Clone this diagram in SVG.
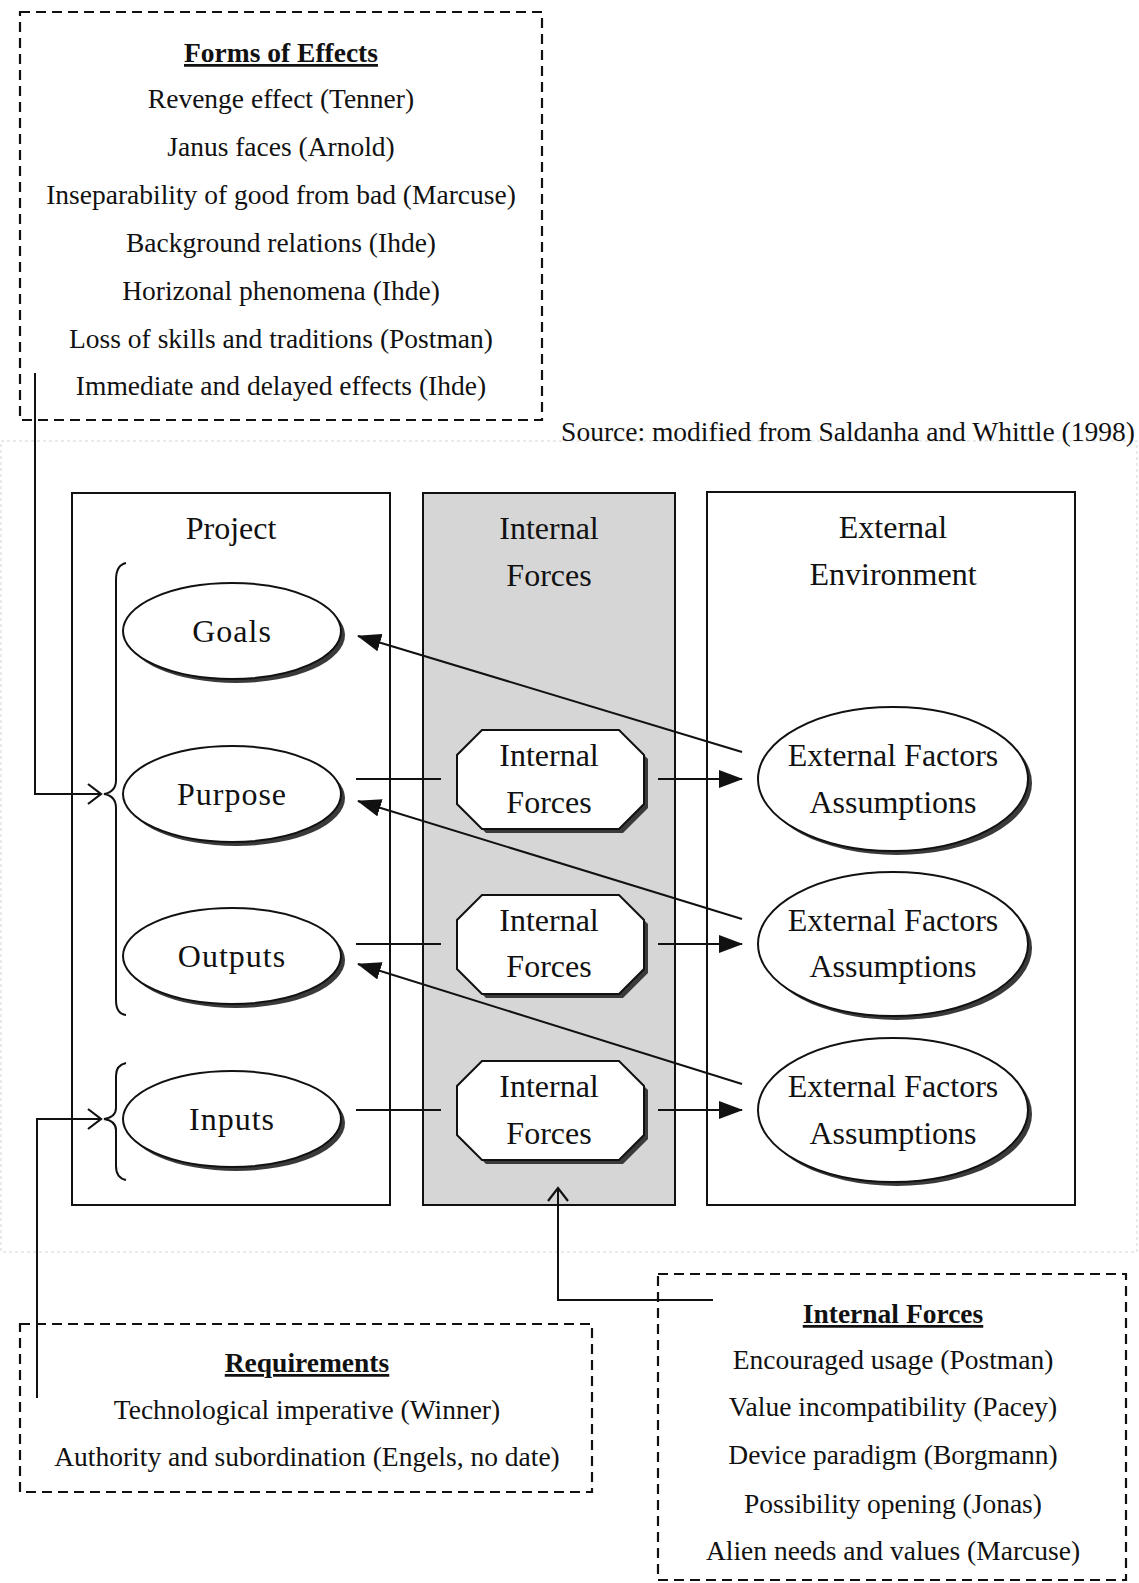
<svg xmlns="http://www.w3.org/2000/svg" width="1139" height="1583" viewBox="0 0 1139 1583">
<style>
text{font-family:"Liberation Serif","Times New Roman",serif;fill:#111;text-anchor:middle}
.t{font-size:27.5px}
.h{font-size:27.5px;font-weight:bold;text-decoration:underline}
.m{font-size:32px}
.dash{fill:none;stroke:#111;stroke-width:2.2;stroke-dasharray:10 6}
.box{fill:#fff;stroke:#111;stroke-width:2}
.ell{fill:#fff;stroke:#111;stroke-width:2}
.sh{fill:#3a3a3a}
.ln{fill:none;stroke:#111;stroke-width:2}
</style>
<defs>
<marker id="fa" markerWidth="12" markerHeight="10" refX="11" refY="5" orient="auto" markerUnits="userSpaceOnUse" viewBox="0 0 12 10">
<path d="M0,0 L12,5 L0,10 z" fill="#111"/>
</marker>
<marker id="fb" markerWidth="24" markerHeight="18" refX="23" refY="9" orient="auto" markerUnits="userSpaceOnUse" viewBox="0 0 24 18">
<path d="M0,0 L24,9 L0,18 z" fill="#111"/>
</marker>
<marker id="oa" markerWidth="16" markerHeight="22" refX="14" refY="11" orient="auto" markerUnits="userSpaceOnUse" viewBox="0 0 16 22">
<path d="M1,1 L14,11 L1,21" fill="none" stroke="#111" stroke-width="2.2"/>
</marker>
</defs>
<rect width="1139" height="1583" fill="#fff"/>
<rect x="1" y="441" width="1136" height="811" fill="none" stroke="#d4d4d4" stroke-width="1" stroke-dasharray="3 3"/>

<g id="forms-of-effects">
<rect class="dash" x="20" y="12" width="522" height="408"/>
<text class="h" x="281" y="62">Forms of Effects</text>
<text class="t" x="281" y="108">Revenge effect (Tenner)</text>
<text class="t" x="281" y="156">Janus faces (Arnold)</text>
<text class="t" x="281" y="204">Inseparability of good from bad (Marcuse)</text>
<text class="t" x="281" y="252">Background relations (Ihde)</text>
<text class="t" x="281" y="300">Horizonal phenomena (Ihde)</text>
<text class="t" x="281" y="348">Loss of skills and traditions (Postman)</text>
<text class="t" x="281" y="395">Immediate and delayed effects (Ihde)</text>
</g>

<text class="t" id="source" x="848" y="441">Source: modified from Saldanha and Whittle (1998)</text>

<g id="project">
<rect class="box" x="72" y="493" width="318" height="712"/>
<text class="m" x="231" y="539">Project</text>
</g>
<g id="internal-forces-column">
<rect x="423" y="493" width="252" height="712" fill="#d6d6d6" stroke="#111" stroke-width="2"/>
<text class="m" x="549" y="539">Internal</text>
<text class="m" x="549" y="586">Forces</text>
</g>
<g id="external-environment">
<rect class="box" x="707" y="492" width="368" height="713"/>
<text class="m" x="893" y="538">External</text>
<text class="m" x="893" y="585">Environment</text>
</g>

<g id="brace-upper"><path class="ln" d="M126,563 Q116,565 116,580 L116,780 Q116,792 104,794 Q116,796 116,808 L116,1000 Q116,1014 126,1015"/></g>
<g id="brace-lower"><path class="ln" d="M126,1063 Q116,1065 116,1076 L116,1108 Q116,1117 104,1119 Q116,1121 116,1130 L116,1166 Q116,1178 126,1180"/></g>

<g id="goals"><ellipse class="sh" cx="236" cy="635" rx="109" ry="48"/><ellipse class="ell" cx="232" cy="631" rx="109" ry="48"/><text class="m" x="232" y="642" letter-spacing="1">Goals</text></g>
<g id="purpose"><ellipse class="sh" cx="236" cy="798" rx="109" ry="48"/><ellipse class="ell" cx="232" cy="794" rx="109" ry="48"/><text class="m" x="232" y="805" letter-spacing="1">Purpose</text></g>
<g id="outputs"><ellipse class="sh" cx="236" cy="960" rx="109" ry="48"/><ellipse class="ell" cx="232" cy="956" rx="109" ry="48"/><text class="m" x="232" y="967" letter-spacing="1">Outputs</text></g>
<g id="inputs"><ellipse class="sh" cx="236" cy="1123" rx="109" ry="48"/><ellipse class="ell" cx="232" cy="1119" rx="109" ry="48"/><text class="m" x="232" y="1130" letter-spacing="1">Inputs</text></g>

<g id="internal-forces-1"><path class="sh" d="M486,734 L623,734 L648,759 L648,808 L623,833 L486,833 L461,808 L461,759 z"/><path class="ell" d="M482,730 L619,730 L644,755 L644,804 L619,829 L482,829 L457,804 L457,755 z"/><text class="m" x="549" y="766">Internal</text><text class="m" x="549" y="813">Forces</text></g>
<g id="internal-forces-2"><path class="sh" d="M486,899 L623,899 L648,924 L648,973 L623,998 L486,998 L461,973 L461,924 z"/><path class="ell" d="M482,895 L619,895 L644,920 L644,969 L619,994 L482,994 L457,969 L457,920 z"/><text class="m" x="549" y="931">Internal</text><text class="m" x="549" y="977">Forces</text></g>
<g id="internal-forces-3"><path class="sh" d="M486,1065 L623,1065 L648,1090 L648,1139 L623,1164 L486,1164 L461,1139 L461,1090 z"/><path class="ell" d="M482,1061 L619,1061 L644,1086 L644,1135 L619,1160 L482,1160 L457,1135 L457,1086 z"/><text class="m" x="549" y="1097">Internal</text><text class="m" x="549" y="1144">Forces</text></g>

<g id="external-1"><ellipse class="sh" cx="897" cy="783" rx="135" ry="72"/><ellipse class="ell" cx="893" cy="779" rx="135" ry="72"/><text class="m" x="893" y="766">External Factors</text><text class="m" x="893" y="813">Assumptions</text></g>
<g id="external-2"><ellipse class="sh" cx="897" cy="948" rx="135" ry="72"/><ellipse class="ell" cx="893" cy="944" rx="135" ry="72"/><text class="m" x="893" y="931">External Factors</text><text class="m" x="893" y="977">Assumptions</text></g>
<g id="external-3"><ellipse class="sh" cx="897" cy="1114" rx="135" ry="72"/><ellipse class="ell" cx="893" cy="1110" rx="135" ry="72"/><text class="m" x="893" y="1097">External Factors</text><text class="m" x="893" y="1144">Assumptions</text></g>

<g id="requirements">
<rect class="dash" x="20" y="1324" width="572" height="168"/>
<text class="h" x="307" y="1372">Requirements</text>
<text class="t" x="307" y="1419">Technological imperative (Winner)</text>
<text class="t" x="307" y="1466">Authority and subordination (Engels, no date)</text>
</g>

<g id="internal-forces-list">
<rect class="dash" x="658" y="1274" width="468" height="306"/>
<text class="h" x="893" y="1323">Internal Forces</text>
<text class="t" x="893" y="1369">Encouraged usage (Postman)</text>
<text class="t" x="893" y="1416">Value incompatibility (Pacey)</text>
<text class="t" x="893" y="1464">Device paradigm (Borgmann)</text>
<text class="t" x="893" y="1513">Possibility opening (Jonas)</text>
<text class="t" x="893" y="1560">Alien needs and values (Marcuse)</text>
</g>

<g id="connectors">
<path class="ln" d="M35,373 L35,794 L101,794" marker-end="url(#oa)"/>
<path class="ln" d="M37,1398 L37,1119 L101,1119" marker-end="url(#oa)"/>
<path class="ln" d="M713,1300 L558,1300 L558,1188" marker-end="url(#oa)"/>
<line class="ln" x1="356" y1="779" x2="441" y2="779"/>
<line class="ln" x1="356" y1="944" x2="441" y2="944"/>
<line class="ln" x1="356" y1="1110" x2="441" y2="1110"/>
<line class="ln" x1="658" y1="779" x2="742" y2="779" marker-end="url(#fb)"/>
<line class="ln" x1="658" y1="944" x2="742" y2="944" marker-end="url(#fb)"/>
<line class="ln" x1="658" y1="1110" x2="742" y2="1110" marker-end="url(#fb)"/>
<line class="ln" x1="742" y1="752" x2="358" y2="636" marker-end="url(#fb)"/>
<line class="ln" x1="742" y1="919" x2="358" y2="801" marker-end="url(#fb)"/>
<line class="ln" x1="742" y1="1084" x2="358" y2="964" marker-end="url(#fb)"/>
</g>
</svg>
